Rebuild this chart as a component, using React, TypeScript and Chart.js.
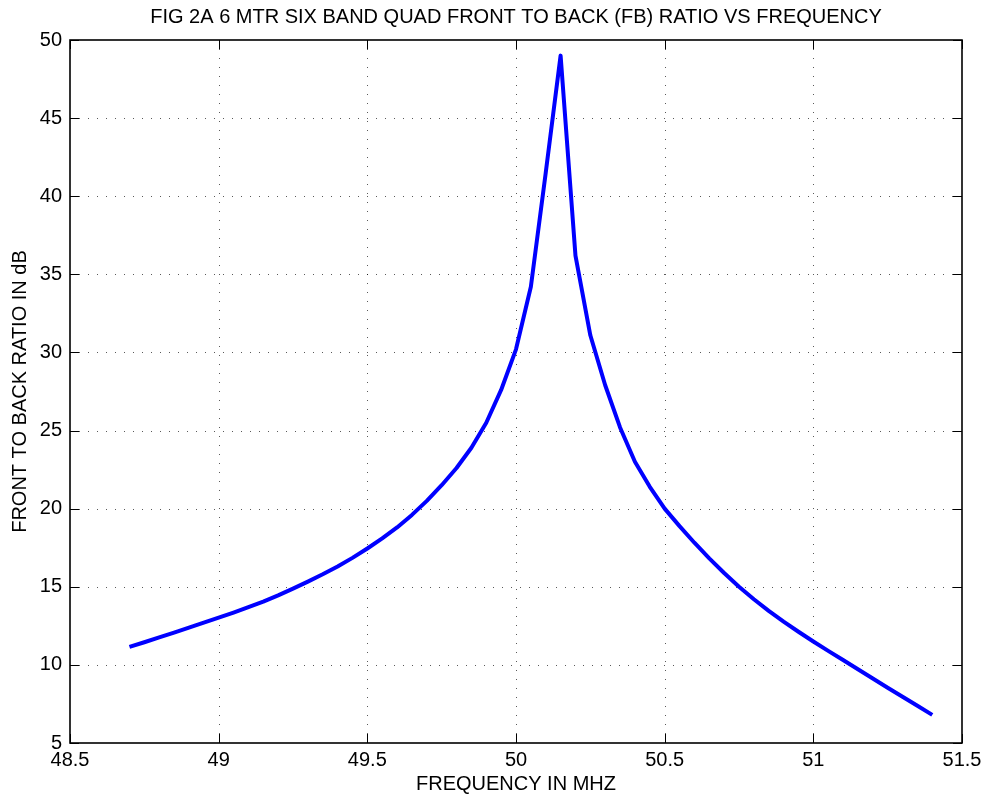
import React, { useEffect, useRef } from "react";
import { Chart, registerables } from "chart.js";

Chart.register(...registerables);

const chartTitle = "FIG 2A 6 MTR SIX BAND QUAD FRONT TO BACK (FB) RATIO VS FREQUENCY";
const xAxisTitle = "FREQUENCY IN MHZ";
const yAxisTitle = "FRONT TO BACK RATIO IN dB";

const freqMHz = [
  48.7, 48.75, 48.8, 48.85, 48.9, 48.95, 49.0, 49.05, 49.1, 49.15,
  49.2, 49.25, 49.3, 49.35, 49.4, 49.45, 49.5, 49.55, 49.6, 49.65,
  49.7, 49.75, 49.8, 49.85, 49.9, 49.95, 50.0, 50.05, 50.1, 50.15,
  50.2, 50.25, 50.3, 50.35, 50.4, 50.45, 50.5, 50.55, 50.6, 50.65,
  50.7, 50.75, 50.8, 50.85, 50.9, 50.95, 51.0, 51.05, 51.1, 51.15,
  51.2, 51.25, 51.3, 51.35, 51.4,
];

const fbRatioDb = [
  11.15, 11.45, 11.76, 12.07, 12.38, 12.7, 13.02, 13.35, 13.7, 14.05,
  14.45, 14.88, 15.33, 15.8, 16.3, 16.85, 17.45, 18.1, 18.8, 19.6,
  20.5, 21.5, 22.6, 23.9, 25.5, 27.6, 30.2, 34.2, 41.5, 49.0,
  36.2, 31.1, 27.9, 25.2, 23.0, 21.4, 20.0, 18.88, 17.82, 16.82,
  15.88, 15.0, 14.2, 13.46, 12.77, 12.12, 11.5, 10.9, 10.31, 9.72,
  9.13, 8.54, 7.96, 7.38, 6.8,
];

const xTicks = [48.5, 49, 49.5, 50, 50.5, 51, 51.5];
const xTickLabels = ["48.5", "49", "49.5", "50", "50.5", "51", "51.5"];
const yTicks = [5, 10, 15, 20, 25, 30, 35, 40, 45, 50];
const yTickLabels = ["5", "10", "15", "20", "25", "30", "35", "40", "45", "50"];

const FONT = "'Liberation Sans', Arial, Helvetica, sans-serif";

const matlabAxesPlugin = {
  id: "matlabAxes",
  beforeDatasetsDraw(chart: any) {
    const { ctx, chartArea, scales } = chart;
    const { left, right, top, bottom } = chartArea;
    ctx.save();
    ctx.strokeStyle = "rgba(0,0,0,0.65)";
    ctx.lineWidth = 1;
    ctx.setLineDash([1, 8]);
    scales.x.ticks.forEach((t: any) => {
      const px = Math.round(scales.x.getPixelForValue(t.value)) + 0.5;
      if (px <= left + 2 || px >= right - 2) return;
      ctx.beginPath();
      ctx.moveTo(px, top);
      ctx.lineTo(px, bottom);
      ctx.stroke();
    });
    scales.y.ticks.forEach((t: any) => {
      const py = Math.round(scales.y.getPixelForValue(t.value)) + 0.5;
      if (py <= top + 2 || py >= bottom - 2) return;
      ctx.beginPath();
      ctx.moveTo(left, py);
      ctx.lineTo(right, py);
      ctx.stroke();
    });
    ctx.restore();
  },
  afterDatasetsDraw(chart: any) {
    const { ctx, chartArea, scales } = chart;
    const { left, right, top, bottom } = chartArea;
    const tickLen = 9;
    ctx.save();
    ctx.setLineDash([]);
    ctx.strokeStyle = "#000";
    ctx.lineWidth = 1;
    scales.x.ticks.forEach((t: any) => {
      const px = Math.round(scales.x.getPixelForValue(t.value)) + 0.5;
      ctx.beginPath();
      ctx.moveTo(px, bottom);
      ctx.lineTo(px, bottom - tickLen);
      ctx.moveTo(px, top);
      ctx.lineTo(px, top + tickLen);
      ctx.stroke();
    });
    scales.y.ticks.forEach((t: any) => {
      const py = Math.round(scales.y.getPixelForValue(t.value)) + 0.5;
      ctx.beginPath();
      ctx.moveTo(left, py);
      ctx.lineTo(left + tickLen, py);
      ctx.moveTo(right, py);
      ctx.lineTo(right - tickLen, py);
      ctx.stroke();
    });
    ctx.lineWidth = 1.6;
    ctx.strokeRect(left, top, right - left, bottom - top);
    ctx.restore();
  },
  afterDraw(chart: any) {
    const { ctx, chartArea } = chart;
    ctx.save();
    ctx.fillStyle = "#000";
    ctx.font = `20px ${FONT}`;
    ctx.textAlign = "center";
    ctx.textBaseline = "alphabetic";
    ctx.fillText(chartTitle, (chartArea.left + chartArea.right) / 2, 23);
    ctx.restore();
  },
};

export default function App() {
  const canvasRef = useRef<HTMLCanvasElement | null>(null);

  useEffect(() => {
    if (!canvasRef.current) return;
    const points = freqMHz.map((f, i) => ({ x: f, y: fbRatioDb[i] }));
    const chart = new Chart(canvasRef.current, {
      type: "line",
      data: {
        datasets: [
          {
            data: points,
            borderColor: "#0000ff",
            backgroundColor: "#0000ff",
            borderWidth: 4,
            pointRadius: 0,
            tension: 0,
            fill: false,
            borderJoinStyle: "round",
            borderCapStyle: "butt",
          },
        ],
      },
      options: {
        responsive: false,
        animation: false,
        devicePixelRatio: 1,
        layout: { padding: { top: 40, right: 25, left: 0, bottom: 0 } },
        plugins: {
          legend: { display: false },
          title: { display: false },
          tooltip: { enabled: false },
        },
        scales: {
          x: {
            type: "linear",
            min: 48.5,
            max: 51.5,
            afterBuildTicks: (s: any) => {
              s.ticks = xTicks.map((v) => ({ value: v }));
            },
            afterFit: (s: any) => {
              s.height = 57;
            },
            ticks: {
              callback: (_v: any, i: number) => xTickLabels[i],
              color: "#000",
              font: { family: FONT, size: 20 },
              padding: 5,
              maxRotation: 0,
              autoSkip: false,
            },
            grid: { display: false, drawTicks: false },
            border: { display: false },
            title: {
              display: true,
              text: xAxisTitle,
              color: "#000",
              font: { family: FONT, size: 20 },
              padding: { top: 0, bottom: 4 },
            },
          },
          y: {
            type: "linear",
            min: 5,
            max: 50,
            afterBuildTicks: (s: any) => {
              s.ticks = yTicks.map((v) => ({ value: v }));
            },
            afterFit: (s: any) => {
              s.width = 70;
            },
            ticks: {
              callback: (_v: any, i: number) => yTickLabels[i],
              color: "#000",
              font: { family: FONT, size: 20 },
              padding: 8,
              autoSkip: false,
            },
            grid: { display: false, drawTicks: false },
            border: { display: false },
            title: {
              display: true,
              text: yAxisTitle,
              color: "#000",
              font: { family: FONT, size: 20 },
              padding: { top: 8, bottom: 0 },
            },
          },
        },
      },
      plugins: [matlabAxesPlugin],
    } as any);
    return () => chart.destroy();
  }, []);

  return (
    <div style={{ position: "absolute", left: 0, top: 0, width: 987, height: 800, background: "#fff" }}>
      <canvas ref={canvasRef} width={987} height={800} style={{ display: "block" }} />
    </div>
  );
}
